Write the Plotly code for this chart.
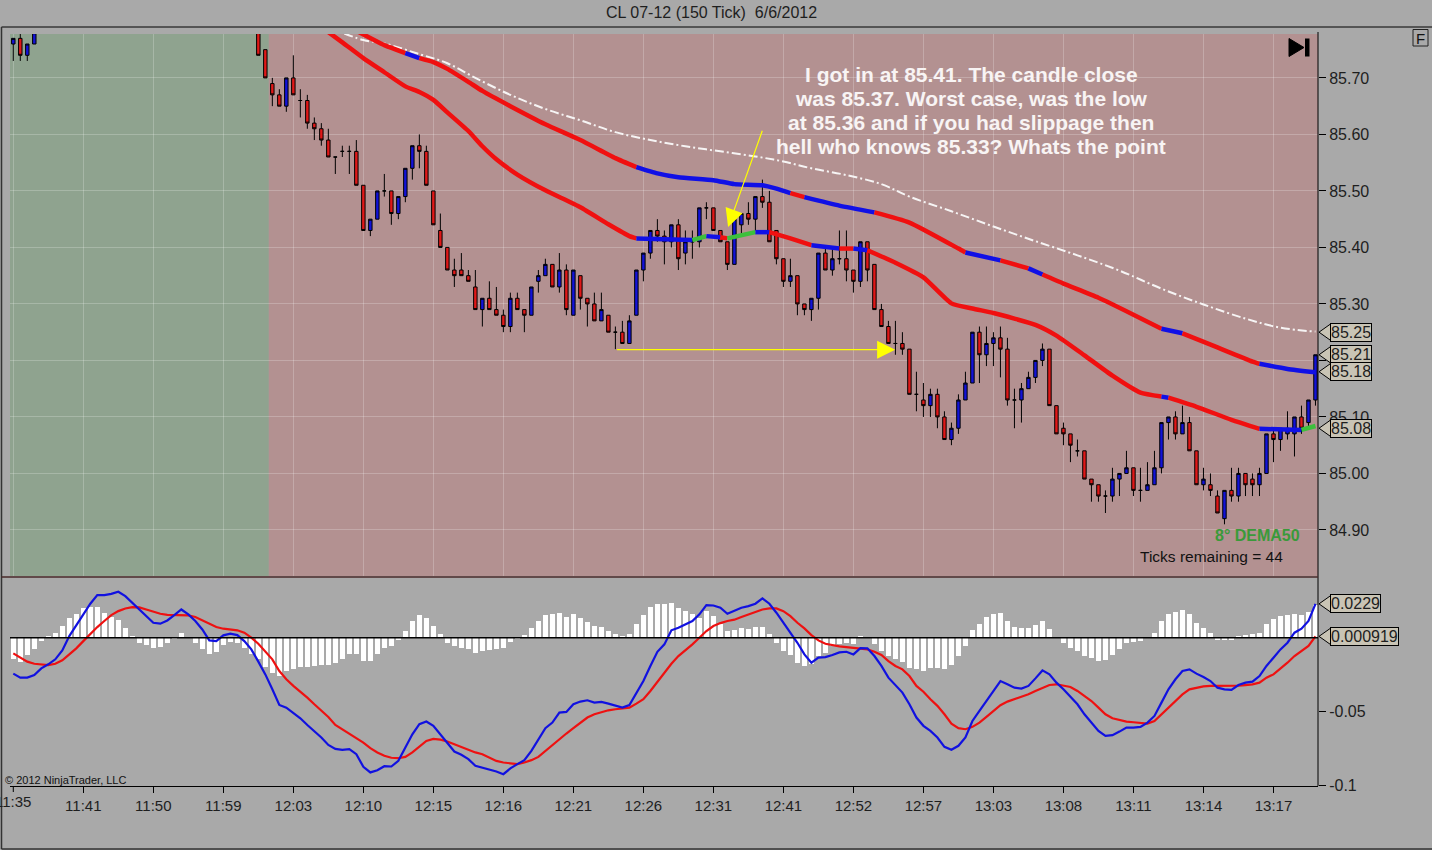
import plotly.graph_objects as go

# ---- price bars (150 tick) -------------------------------------------------
# bars 5..34 traded above the visible price window, so only these are listed
bar_index = [0, 1, 2, 3, 4] + list(range(35, 187))

opens = [85.76, 85.77, 85.74, 85.76, 85.78,
         85.80, 85.75, 85.69, 85.67, 85.65, 85.70, 85.66, 85.66, 85.62, 85.61,
         85.59, 85.56, 85.57, 85.57, 85.57, 85.51, 85.43, 85.45, 85.50, 85.50,
         85.46, 85.49, 85.54, 85.58, 85.57, 85.50, 85.43, 85.40, 85.36, 85.36,
         85.35, 85.33, 85.29, 85.31, 85.29, 85.28, 85.26, 85.31, 85.29, 85.28,
         85.34, 85.35, 85.37, 85.33, 85.36, 85.28, 85.35, 85.31, 85.30, 85.27,
         85.28, 85.25, 85.25, 85.23, 85.28, 85.36, 85.39, 85.43, 85.42, 85.41,
         85.44, 85.39, 85.41, 85.41, 85.47, 85.47, 85.43, 85.41, 85.37, 85.44,
         85.46, 85.45, 85.49, 85.48, 85.43, 85.38, 85.34, 85.35, 85.30, 85.29,
         85.31, 85.39, 85.36, 85.38, 85.38, 85.36, 85.34, 85.41, 85.37, 85.29,
         85.26, 85.23, 85.23, 85.22, 85.14, 85.13, 85.12, 85.14, 85.10, 85.06,
         85.08, 85.13, 85.16, 85.25, 85.21, 85.23, 85.24, 85.22, 85.13, 85.13,
         85.15, 85.17, 85.20, 85.22, 85.12, 85.08, 85.07, 85.04, 85.04, 84.99,
         84.98, 84.96, 84.96, 84.99, 85.00, 85.01, 84.97, 84.97, 84.98, 85.01,
         85.09, 85.10, 85.07, 85.09, 85.04, 84.98, 84.98, 84.96, 84.92, 84.97,
         84.96, 85.00, 84.99, 84.98, 85.00, 85.07, 85.06, 85.07, 85.07, 85.10,
         85.09, 85.13]
highs = [85.77, 85.78, 85.76, 85.79, 85.86,
         85.81, 85.75, 85.70, 85.68, 85.70, 85.74, 85.68, 85.67, 85.63, 85.62,
         85.61, 85.56, 85.58, 85.58, 85.59, 85.51, 85.45, 85.50, 85.53, 85.50,
         85.49, 85.54, 85.58, 85.60, 85.58, 85.50, 85.46, 85.40, 85.38, 85.39,
         85.36, 85.36, 85.31, 85.34, 85.33, 85.29, 85.32, 85.32, 85.29, 85.33,
         85.36, 85.38, 85.37, 85.39, 85.37, 85.36, 85.35, 85.31, 85.32, 85.32,
         85.28, 85.26, 85.27, 85.28, 85.36, 85.39, 85.43, 85.45, 85.43, 85.44,
         85.45, 85.43, 85.43, 85.47, 85.48, 85.47, 85.43, 85.41, 85.45, 85.46,
         85.48, 85.49, 85.52, 85.50, 85.43, 85.38, 85.38, 85.35, 85.30, 85.31,
         85.39, 85.40, 85.40, 85.43, 85.43, 85.36, 85.41, 85.41, 85.37, 85.30,
         85.27, 85.27, 85.25, 85.22, 85.18, 85.16, 85.15, 85.15, 85.11, 85.09,
         85.14, 85.18, 85.25, 85.26, 85.26, 85.25, 85.26, 85.24, 85.15, 85.16,
         85.18, 85.20, 85.23, 85.22, 85.12, 85.09, 85.07, 85.06, 85.04, 84.99,
         84.98, 84.97, 85.01, 85.00, 85.04, 85.01, 85.01, 85.02, 85.04, 85.09,
         85.10, 85.11, 85.12, 85.10, 85.04, 85.01, 85.00, 84.97, 84.97, 85.01,
         85.01, 85.00, 85.00, 85.01, 85.07, 85.08, 85.08, 85.11, 85.10, 85.12,
         85.13, 85.21]
lows = [85.73, 85.73, 85.73, 85.76, 85.78,
        85.74, 85.70, 85.65, 85.65, 85.64, 85.67, 85.63, 85.61, 85.59, 85.58,
        85.56, 85.53, 85.56, 85.53, 85.51, 85.43, 85.42, 85.45, 85.49, 85.44,
        85.45, 85.48, 85.52, 85.54, 85.51, 85.44, 85.40, 85.36, 85.33, 85.35,
        85.34, 85.29, 85.26, 85.29, 85.28, 85.25, 85.25, 85.29, 85.25, 85.28,
        85.32, 85.35, 85.33, 85.32, 85.28, 85.28, 85.29, 85.26, 85.27, 85.27,
        85.25, 85.22, 85.23, 85.23, 85.28, 85.34, 85.38, 85.41, 85.37, 85.40,
        85.36, 85.37, 85.38, 85.40, 85.45, 85.43, 85.41, 85.36, 85.37, 85.42,
        85.44, 85.43, 85.47, 85.41, 85.37, 85.33, 85.33, 85.28, 85.28, 85.27,
        85.29, 85.36, 85.35, 85.37, 85.34, 85.32, 85.33, 85.34, 85.29, 85.26,
        85.23, 85.21, 85.21, 85.14, 85.11, 85.10, 85.10, 85.08, 85.06, 85.05,
        85.07, 85.13, 85.16, 85.16, 85.19, 85.19, 85.17, 85.12, 85.08, 85.09,
        85.15, 85.16, 85.19, 85.12, 85.07, 85.05, 85.02, 85.03, 84.99, 84.95,
        84.95, 84.93, 84.95, 84.96, 85.00, 84.96, 84.95, 84.97, 84.98, 85.00,
        85.06, 85.06, 85.07, 85.04, 84.98, 84.97, 84.96, 84.93, 84.91, 84.95,
        84.95, 84.96, 84.96, 84.96, 85.00, 85.02, 85.04, 85.06, 85.03, 85.07,
        85.08, 85.12]
closes = [85.77, 85.74, 85.76, 85.78, 85.85,
          85.74, 85.70, 85.67, 85.65, 85.70, 85.67, 85.66, 85.62, 85.61, 85.59,
          85.56, 85.56, 85.57, 85.57, 85.51, 85.43, 85.45, 85.50, 85.50, 85.46,
          85.49, 85.54, 85.58, 85.57, 85.51, 85.44, 85.40, 85.36, 85.35, 85.35,
          85.34, 85.29, 85.31, 85.29, 85.28, 85.26, 85.31, 85.29, 85.28, 85.33,
          85.35, 85.37, 85.33, 85.36, 85.29, 85.36, 85.31, 85.30, 85.27, 85.29,
          85.25, 85.25, 85.23, 85.27, 85.36, 85.39, 85.43, 85.42, 85.41, 85.44,
          85.38, 85.41, 85.41, 85.47, 85.47, 85.43, 85.41, 85.37, 85.45, 85.46,
          85.45, 85.49, 85.48, 85.41, 85.38, 85.34, 85.35, 85.30, 85.29, 85.31,
          85.39, 85.36, 85.38, 85.38, 85.36, 85.34, 85.41, 85.36, 85.29, 85.26,
          85.23, 85.23, 85.22, 85.14, 85.14, 85.12, 85.14, 85.10, 85.06, 85.08,
          85.13, 85.16, 85.25, 85.21, 85.23, 85.24, 85.22, 85.13, 85.13, 85.15,
          85.17, 85.20, 85.22, 85.12, 85.07, 85.07, 85.05, 85.04, 84.99, 84.98,
          84.96, 84.96, 84.99, 85.00, 85.01, 84.97, 84.97, 84.98, 85.01, 85.09,
          85.10, 85.07, 85.09, 85.04, 84.98, 84.99, 84.97, 84.93, 84.97, 84.96,
          85.00, 84.98, 84.98, 85.00, 85.07, 85.06, 85.08, 85.08, 85.10, 85.08,
          85.13, 85.21]

# ---- moving averages (bar index, price, slope colour of the following stretch)
upper_idx = [48, 53, 56, 58, 60, 62, 65, 67, 71, 76, 81, 86, 89, 92, 95, 100,
             103, 107, 109, 111, 113, 118, 123, 128, 135, 136, 141, 145, 147,
             150, 155, 160, 164, 167, 172, 177, 178, 182, 186]
upper_val = [85.79, 85.758, 85.744, 85.735, 85.728, 85.716, 85.693, 85.677,
             85.65, 85.618, 85.59, 85.558, 85.542, 85.531, 85.524, 85.519,
             85.512, 85.51, 85.504, 85.496, 85.489, 85.474, 85.462, 85.444,
             85.398, 85.391, 85.377, 85.363, 85.352, 85.336, 85.311, 85.281,
             85.256, 85.248, 85.223, 85.198, 85.194, 85.185, 85.179]
upper_state = ["r", "r", "b", "r", "r", "r", "r", "r", "r", "r", "r", "r", "b",
               "b", "b", "b", "b", "b", "b", "r", "b", "b", "r", "r", "r", "b",
               "r", "b", "r", "r", "r", "r", "b", "r", "r", "r", "b", "b", "b"]

lower_idx = [44, 47, 50, 53, 56, 58, 60, 62, 65, 67, 69, 72, 76, 81, 85, 88,
             89, 97, 99, 101, 102, 106, 108, 111, 114, 118, 120, 122, 126, 130,
             134, 137, 140, 143, 146, 149, 153, 157, 161, 164, 165, 169, 174,
             178, 184, 186]
lower_val = [85.79, 85.763, 85.735, 85.71, 85.685, 85.675, 85.661, 85.639,
             85.606, 85.579, 85.556, 85.529, 85.501, 85.471, 85.441, 85.42,
             85.416, 85.413, 85.42, 85.418, 85.416, 85.427, 85.427, 85.416,
             85.404, 85.398, 85.398, 85.395, 85.373, 85.347, 85.301, 85.292,
             85.284, 85.274, 85.263, 85.244, 85.209, 85.173, 85.143, 85.136,
             85.134, 85.118, 85.095, 85.079, 85.077, 85.084]
lower_state = ["r", "r", "r", "r", "r", "r", "r", "r", "r", "r", "r", "r", "r",
               "r", "r", "r", "b", "g", "b", "r", "g", "b", "r", "r", "b", "r",
               "b", "r", "r", "r", "r", "r", "r", "r", "r", "r", "r", "r", "r",
               "b", "r", "r", "r", "b", "g", "g"]

white_idx = [45, 50, 53, 58, 62, 66, 71, 76, 81, 86, 91, 96, 101, 106, 110,
             114, 119, 124, 128, 134, 140, 146, 152, 158, 164, 170, 176, 181, 186]
white_val = [85.79, 85.767, 85.761, 85.742, 85.726, 85.70, 85.67, 85.645,
             85.625, 85.604, 85.59, 85.579, 85.57, 85.561, 85.552, 85.54,
             85.528, 85.512, 85.49, 85.464, 85.437, 85.411, 85.386, 85.359,
             85.327, 85.299, 85.274, 85.258, 85.251]

# ---- MACD panel (one value per bar, bars 0..186) ---------------------------
macd_line = [
    -0.0243, -0.0270, -0.0270, -0.0252, -0.0207, -0.0180, -0.0146, -0.0086, 0.0011, 0.0086,
    0.0162, 0.0230, 0.0288, 0.0288, 0.0297, 0.0311, 0.0281, 0.0236, 0.0191, 0.0146,
    0.0101, 0.0095, 0.0117, 0.0153, 0.0191, 0.0158, 0.0113, 0.0056, -0.0018, -0.0023,
    0.0016, 0.0027, 0.0018, -0.0023, -0.0079, -0.0162, -0.0248, -0.0349, -0.0455, -0.0473,
    -0.0506, -0.0545, -0.0590, -0.0630, -0.0675, -0.0725, -0.0752, -0.0758, -0.0754, -0.0788,
    -0.0873, -0.0911, -0.0896, -0.0869, -0.0871, -0.0833, -0.0743, -0.0653, -0.0585, -0.0567,
    -0.0596, -0.0653, -0.0709, -0.0770, -0.0792, -0.0821, -0.0866, -0.0878, -0.0889, -0.0905,
    -0.0923, -0.0884, -0.0855, -0.0828, -0.0765, -0.0686, -0.0612, -0.0574, -0.0506, -0.0502,
    -0.0450, -0.0432, -0.0423, -0.0439, -0.0434, -0.0446, -0.0461, -0.0473, -0.0455, -0.0371,
    -0.0293, -0.0191, -0.0095, -0.0045, 0.0050, 0.0068, 0.0090, 0.0113, 0.0158, 0.0221,
    0.0218, 0.0203, 0.0162, 0.0185, 0.0203, 0.0214, 0.0230, 0.0266, 0.0230, 0.0169,
    0.0101, 0.0041, -0.0034, -0.0113, -0.0169, -0.0135, -0.0131, -0.0117, -0.0099, -0.0095,
    -0.0113, -0.0070, -0.0072, -0.0124, -0.0191, -0.0270, -0.0322, -0.0371, -0.0450, -0.0540,
    -0.0596, -0.0630, -0.0675, -0.0738, -0.0758, -0.0731, -0.0675, -0.0563, -0.0495, -0.0428,
    -0.0360, -0.0293, -0.0315, -0.0338, -0.0344, -0.0326, -0.0275, -0.0221, -0.0248, -0.0304,
    -0.0349, -0.0401, -0.0450, -0.0518, -0.0574, -0.0630, -0.0664, -0.0659, -0.0635, -0.0608,
    -0.0608, -0.0603, -0.0574, -0.0529, -0.0439, -0.0349, -0.0281, -0.0225, -0.0214, -0.0243,
    -0.0266, -0.0293, -0.0338, -0.0349, -0.0353, -0.0320, -0.0304, -0.0297, -0.0259, -0.0191,
    -0.0135, -0.0079, -0.0034, 0.0034, 0.0061, 0.0113, 0.0229]
signal_line = [
    -0.0106, -0.0135, -0.0162, -0.0176, -0.0182, -0.0185, -0.0176, -0.0153, -0.0113, -0.0072,
    -0.0023, 0.0027, 0.0072, 0.0113, 0.0153, 0.0180, 0.0198, 0.0207, 0.0205, 0.0191,
    0.0176, 0.0162, 0.0155, 0.0153, 0.0153, 0.0151, 0.0140, 0.0117, 0.0095, 0.0072,
    0.0061, 0.0056, 0.0050, 0.0034, 0.0000, -0.0041, -0.0090, -0.0146, -0.0225, -0.0281,
    -0.0326, -0.0365, -0.0405, -0.0450, -0.0491, -0.0536, -0.0590, -0.0619, -0.0648, -0.0675,
    -0.0709, -0.0747, -0.0776, -0.0799, -0.0812, -0.0815, -0.0806, -0.0776, -0.0738, -0.0698,
    -0.0684, -0.0689, -0.0702, -0.0720, -0.0738, -0.0761, -0.0776, -0.0788, -0.0810, -0.0833,
    -0.0844, -0.0851, -0.0855, -0.0844, -0.0828, -0.0806, -0.0765, -0.0725, -0.0686, -0.0648,
    -0.0612, -0.0574, -0.0540, -0.0518, -0.0502, -0.0491, -0.0484, -0.0479, -0.0473, -0.0446,
    -0.0416, -0.0360, -0.0297, -0.0236, -0.0176, -0.0124, -0.0086, -0.0045, 0.0000, 0.0045,
    0.0079, 0.0099, 0.0113, 0.0122, 0.0140, 0.0158, 0.0176, 0.0191, 0.0198, 0.0198,
    0.0180, 0.0146, 0.0101, 0.0063, 0.0018, -0.0018, -0.0041, -0.0052, -0.0059, -0.0063,
    -0.0068, -0.0072, -0.0079, -0.0095, -0.0117, -0.0158, -0.0191, -0.0214, -0.0259, -0.0326,
    -0.0365, -0.0416, -0.0461, -0.0518, -0.0581, -0.0612, -0.0619, -0.0603, -0.0574, -0.0536,
    -0.0495, -0.0457, -0.0432, -0.0416, -0.0401, -0.0383, -0.0360, -0.0338, -0.0320, -0.0315,
    -0.0322, -0.0333, -0.0360, -0.0394, -0.0428, -0.0473, -0.0518, -0.0545, -0.0558, -0.0567,
    -0.0572, -0.0576, -0.0581, -0.0563, -0.0518, -0.0473, -0.0428, -0.0383, -0.0349, -0.0338,
    -0.0329, -0.0326, -0.0326, -0.0326, -0.0326, -0.0324, -0.0320, -0.0315, -0.0304, -0.0270,
    -0.0248, -0.0209, -0.0169, -0.0124, -0.0090, -0.0056, 0.0009]
macd_hist = [
    -0.0142, -0.0162, -0.0119, -0.0079, -0.0023, 0.0005, 0.0034, 0.0077, 0.0135, 0.0158,
    0.0203, 0.0207, 0.0207, 0.0164, 0.0140, 0.0117, 0.0063, 0.0009, -0.0034, -0.0052,
    -0.0068, -0.0063, -0.0036, -0.0005, 0.0029, 0.0000, -0.0034, -0.0079, -0.0113, -0.0097,
    -0.0052, -0.0029, -0.0038, -0.0068, -0.0113, -0.0146, -0.0198, -0.0239, -0.0259, -0.0225,
    -0.0214, -0.0198, -0.0196, -0.0191, -0.0187, -0.0185, -0.0169, -0.0146, -0.0113, -0.0113,
    -0.0158, -0.0158, -0.0113, -0.0072, -0.0056, -0.0016, 0.0045, 0.0113, 0.0153, 0.0135,
    0.0079, 0.0023, -0.0034, -0.0056, -0.0072, -0.0079, -0.0101, -0.0090, -0.0086, -0.0079,
    -0.0072, -0.0029, -0.0005, 0.0018, 0.0063, 0.0113, 0.0151, 0.0158, 0.0169, 0.0140,
    0.0158, 0.0131, 0.0108, 0.0079, 0.0072, 0.0045, 0.0023, 0.0005, 0.0023, 0.0090,
    0.0151, 0.0209, 0.0230, 0.0230, 0.0236, 0.0198, 0.0180, 0.0158, 0.0135, 0.0180,
    0.0146, 0.0095, 0.0045, 0.0050, 0.0063, 0.0056, 0.0072, 0.0072, 0.0023, -0.0034,
    -0.0090, -0.0119, -0.0169, -0.0191, -0.0180, -0.0124, -0.0101, -0.0056, -0.0045, -0.0038,
    -0.0041, 0.0005, 0.0000, -0.0045, -0.0090, -0.0124, -0.0146, -0.0162, -0.0207, -0.0214,
    -0.0225, -0.0207, -0.0203, -0.0214, -0.0185, -0.0124, -0.0056, 0.0050, 0.0095, 0.0140,
    0.0162, 0.0164, 0.0113, 0.0072, 0.0063, 0.0068, 0.0086, 0.0113, 0.0056, 0.0000,
    -0.0038, -0.0068, -0.0090, -0.0124, -0.0140, -0.0158, -0.0153, -0.0117, -0.0079, -0.0038,
    -0.0029, -0.0023, 0.0000, 0.0029, 0.0113, 0.0162, 0.0173, 0.0185, 0.0158, 0.0097,
    0.0063, 0.0029, -0.0016, -0.0016, -0.0016, 0.0011, 0.0016, 0.0023, 0.0034, 0.0095,
    0.0124, 0.0146, 0.0151, 0.0162, 0.0151, 0.0173, 0.0220]

# ---- axis labels -------------------------------------------------------------
time_tick_idx = list(range(0, 190, 10))
time_labels = ["11:35", "11:41", "11:50", "11:59", "12:03", "12:10", "12:15",
               "12:16", "12:21", "12:26", "12:31", "12:41", "12:52", "12:57",
               "13:03", "13:08", "13:11", "13:14", "13:17"]
price_ticks = [84.90, 85.00, 85.10, 85.20, 85.30, 85.40, 85.50, 85.60, 85.70]
price_markers = [85.25, 85.21, 85.18, 85.08]
macd_ticks = [-0.1, -0.05]
macd_markers = [0.0229, 0.000919]
note_lines = ["I got in at 85.41. The candle close",
              "was 85.37. Worst case, was the low",
              "at 85.36 and if you had slippage then",
              "hell who knows 85.33? Whats the point"]

W, H = 1432, 850
ML, MR, MT, MB = 10, 114, 34, 64
PW, PH = W - ML - MR, H - MT - MB


def px(x):  # pixel -> paper x
    return (x - ML) / PW


def py(y):  # pixel -> paper y
    return (H - MB - y) / PH


FONT = "Arial, Liberation Sans, sans-serif"
RED, BLUE, GREEN = "#f01010", "#1010e6", "#3cc03c"
STATE_COL = {"r": RED, "b": BLUE, "g": GREEN}
GRAY = "#a9a9a9"

fig = go.Figure()

fig.add_trace(go.Candlestick(
    x=bar_index, open=opens, high=highs, low=lows, close=closes,
    increasing=dict(line=dict(color="black", width=1), fillcolor="#1212d8"),
    decreasing=dict(line=dict(color="black", width=1), fillcolor="#e01818"),
    whiskerwidth=0, showlegend=False, xaxis="x", yaxis="y"))


def add_segments(idx, vals, states, width):
    run_x, run_y = [idx[0]], [vals[0]]
    for k in range(1, len(idx)):
        run_x.append(idx[k])
        run_y.append(vals[k])
        if k == len(idx) - 1 or states[k] != states[k - 1]:
            fig.add_trace(go.Scatter(
                x=run_x, y=run_y, mode="lines", showlegend=False,
                line=dict(color=STATE_COL[states[k - 1]], width=width, shape="spline", smoothing=0.5),
                xaxis="x", yaxis="y", hoverinfo="skip"))
            run_x, run_y = [idx[k]], [vals[k]]


fig.add_trace(go.Scatter(
    x=white_idx, y=white_val, mode="lines", showlegend=False,
    line=dict(color="rgba(250,250,250,0.95)", width=2, dash="9px,3px,2px,3px", shape="spline"),
    xaxis="x", yaxis="y", hoverinfo="skip"))
add_segments(upper_idx, upper_val, upper_state, 4.5)
add_segments(lower_idx, lower_val, lower_state, 4.5)

# MACD panel
fig.add_trace(go.Bar(x=list(range(len(macd_hist))), y=macd_hist, width=0.7,
                     marker=dict(color="white", line=dict(width=0)),
                     showlegend=False, xaxis="x2", yaxis="y2"))
fig.add_trace(go.Scatter(x=list(range(len(signal_line))), y=signal_line, mode="lines",
                         line=dict(color="#ee1111", width=2.2), showlegend=False,
                         xaxis="x2", yaxis="y2"))
fig.add_trace(go.Scatter(x=list(range(len(macd_line))), y=macd_line, mode="lines",
                         line=dict(color="#1111e0", width=2.2), showlegend=False,
                         xaxis="x2", yaxis="y2"))

x_range = [-0.47, 186.36]
top_dom = [py(576), 1]
bot_dom = [0, py(578)]

shapes = [
    dict(type="rect", xref="x", yref="y domain", x0=-0.5, x1=36.5, y0=0, y1=1,
         fillcolor="#8fa38f", line=dict(width=0), layer="below"),
    dict(type="rect", xref="x", yref="y domain", x0=36.5, x1=187, y0=0, y1=1,
         fillcolor="#b39191", line=dict(width=0), layer="below"),
    dict(type="line", xref="x2 domain", yref="y2", x0=0, x1=1, y0=0, y1=0,
         line=dict(color="black", width=1.5)),
    # frame lines
    dict(type="line", xref="paper", yref="paper", x0=px(1.5), x1=px(W), y0=py(27), y1=py(27),
         line=dict(color="black", width=1)),
    dict(type="line", xref="paper", yref="paper", x0=px(1.5), x1=px(1.5), y0=py(27), y1=py(849),
         line=dict(color="#333", width=1.5)),
    dict(type="line", xref="paper", yref="paper", x0=px(1.5), x1=px(W), y0=py(849), y1=py(849),
         line=dict(color="#333", width=1.5)),
    dict(type="line", xref="paper", yref="paper", x0=1, x1=1, y0=py(32), y1=0,
         line=dict(color="black", width=1)),
    dict(type="line", xref="paper", yref="paper", x0=px(1.5), x1=1, y0=py(577), y1=py(577),
         line=dict(color="#4a2a2a", width=1.5)),
    # play-to-end icon
    dict(type="path", xref="paper", yref="paper",
         path=f"M {px(1289)},{py(38.5)} L {px(1304)},{py(47.5)} L {px(1289)},{py(56.5)} Z",
         fillcolor="black", line=dict(color="black", width=1)),
    dict(type="rect", xref="paper", yref="paper", x0=px(1305), x1=px(1309.5), y0=py(38.5), y1=py(56.5),
         fillcolor="black", line=dict(width=0)),
    # "F" button frame
    dict(type="rect", xref="paper", yref="paper", x0=px(1413), x1=px(1428), y0=py(29.5), y1=py(46),
         fillcolor=GRAY, line=dict(color="#222", width=1)),
]

annotations = [
    dict(text="CL 07-12 (150 Tick)\u00a0 6/6/2012", xref="paper", yref="paper",
         x=px(711.5), y=py(13), xanchor="center", yanchor="middle", showarrow=False,
         font=dict(family=FONT, size=16, color="#1e1e1e")),
    dict(text="<b>8° DEMA50</b>", xref="paper", yref="paper", x=px(1257), y=py(535),
         xanchor="center", yanchor="middle", showarrow=False,
         font=dict(family=FONT, size=16, color="#3a9a3a")),
    dict(text="Ticks remaining = 44", xref="paper", yref="paper", x=px(1285), y=py(556),
         xanchor="right", yanchor="middle", showarrow=False,
         font=dict(family=FONT, size=15.5, color="#111")),
    dict(text="© 2012 NinjaTrader, LLC", xref="paper", yref="paper", x=px(3), y=py(779.5),
         xanchor="left", yanchor="middle", showarrow=False,
         font=dict(family=FONT, size=11, color="#111")),
    dict(text="F", xref="paper", yref="paper", x=px(1420.5), y=py(38), xanchor="center",
         yanchor="middle", showarrow=False, font=dict(family=FONT, size=15, color="#111")),
    # first time label sits on the left page edge and is cut off there
    dict(text=time_labels[0], xref="x2", yref="paper", x=time_tick_idx[0], y=py(801.5),
         xanchor="center", yanchor="middle", showarrow=False,
         font=dict(family=FONT, size=15, color="#1e1e1e")),
    # yellow arrows
    dict(text="", x=102.1, y=85.436, ax=107.06, ay=85.609, xref="x", yref="y",
         axref="x", ayref="y", showarrow=True, arrowhead=2, arrowsize=3,
         arrowwidth=1.2, arrowcolor="#ffff00"),
    dict(text="", x=125.96, y=85.219, ax=86, ay=85.219, xref="x", yref="y",
         axref="x", ayref="y", showarrow=True, arrowhead=2, arrowsize=3,
         arrowwidth=1.2, arrowcolor="#ffff00"),
]
for k, line in enumerate(note_lines):
    annotations.append(dict(text=f"<b>{line}</b>", xref="paper", yref="paper",
                            x=px(971), y=py(74 + 24 * k), xanchor="center", yanchor="middle",
                            showarrow=False, font=dict(family=FONT, size=21, color="#f8f4f4")))

MARK_FILL = "#c9c4b5"
for val in price_markers:
    h = 8.5 / 564
    shapes.append(dict(type="path", xref="paper", yref="y",
                       path=f"M {px(1319)},{val} L {px(1331)},{val + h} L {px(1331)},{val - h} Z",
                       fillcolor=MARK_FILL, line=dict(color="black", width=1)))
    annotations.append(dict(text=f"{val:.2f}", xref="paper", yref="y", x=px(1330), y=val,
                            xanchor="left", yanchor="middle", showarrow=False, bgcolor=MARK_FILL,
                            bordercolor="black", borderwidth=1, borderpad=0,
                            font=dict(family=FONT, size=16, color="#1e1e1e")))
for val in macd_markers:
    h = 8.5 / 1480
    shapes.append(dict(type="path", xref="paper", yref="y2",
                       path=f"M {px(1319)},{val} L {px(1331)},{val + h} L {px(1331)},{val - h} Z",
                       fillcolor=MARK_FILL, line=dict(color="black", width=1)))
    annotations.append(dict(text=f"{val:g}" if val < 0.01 else f"{val:.4f}", xref="paper",
                            yref="y2", x=px(1330), y=val, xanchor="left", yanchor="middle",
                            showarrow=False, bgcolor=MARK_FILL, bordercolor="black",
                            borderwidth=1, borderpad=0,
                            font=dict(family=FONT, size=16, color="#1e1e1e")))

grid = "rgba(255,255,255,0.22)"
fig.update_layout(
    width=W, height=H, margin=dict(l=ML, r=MR, t=MT, b=MB, autoexpand=False),
    paper_bgcolor=GRAY, plot_bgcolor=GRAY, bargap=0, showlegend=False,
    font=dict(family=FONT, color="#1e1e1e"),
    xaxis=dict(domain=[0, 1], anchor="y", range=x_range, rangeslider=dict(visible=False),
               tickvals=time_tick_idx, showticklabels=False, ticks="",
               showgrid=True, gridcolor=grid, gridwidth=1, zeroline=False, showline=False),
    xaxis2=dict(domain=[0, 1], anchor="y2", range=x_range, matches="x",
                tickvals=time_tick_idx[1:], ticktext=time_labels[1:], ticks="outside", ticklen=6,
                tickcolor="black", showgrid=False, zeroline=False, showline=True,
                linecolor="black", linewidth=1, tickfont=dict(size=15, color="#1e1e1e")),
    yaxis=dict(domain=top_dom, anchor="x", side="right", range=[84.8185, 85.7777],
               tickvals=price_ticks, ticktext=[f"{v:.2f}" for v in price_ticks],
               ticks="outside", ticklen=7, tickcolor="black", showline=False,
               showgrid=True, gridcolor=grid, zeroline=False,
               tickfont=dict(size=16, color="#1e1e1e")),
    yaxis2=dict(domain=bot_dom, anchor="x2", side="right", range=[-0.1003, 0.0404],
                tickvals=macd_ticks, ticktext=["-0.1", "-0.05"], ticks="outside", ticklen=7,
                tickcolor="black", showline=False, showgrid=False, zeroline=False,
                ticklabeloverflow="allow", tickfont=dict(size=16, color="#1e1e1e")),
    shapes=shapes + [dict(type="line", xref="x2", yref="paper", x0=0, x1=0,
                          y0=0, y1=py(792), line=dict(color="black", width=1))],
    annotations=annotations,
)

fig.write_html("out.html", config={"displayModeBar": False},
               post_script="document.body.style.margin='0';")
